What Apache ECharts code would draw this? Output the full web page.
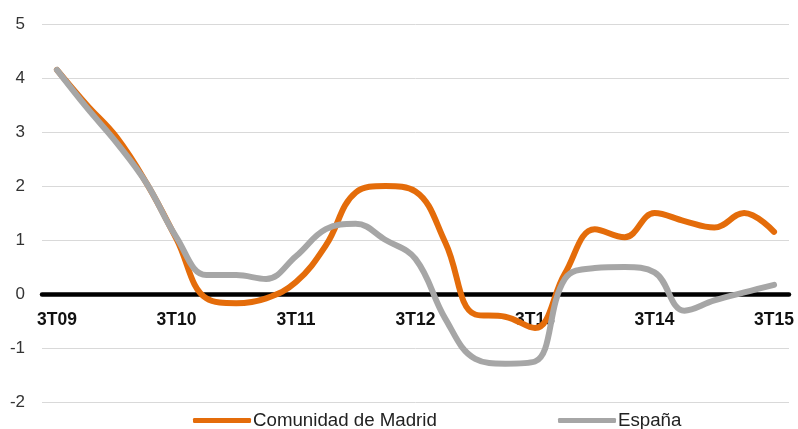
<!DOCTYPE html>
<html>
<head>
<meta charset="utf-8">
<script src="https://cdn.jsdelivr.net/npm/echarts@6/dist/echarts.min.js"></script>
<style>
  html, body { margin: 0; padding: 0; background: #fff; }
  #chart { width: 798px; height: 429px; }
</style>
</head>
<body>
<div id="chart"></div>
<script>
// Quarterly series, 3T09 .. 3T15
const quarters = [
  '3T09', '4T09', '1T10', '2T10', '3T10', '4T10', '1T11', '2T11', '3T11',
  '4T11', '1T12', '2T12', '3T12', '4T12', '1T13', '2T13', '3T13', '4T13',
  '1T14', '2T14', '3T14', '4T14', '1T15', '2T15', '3T15'
];
const madrid = [
  4.15, 3.5, 2.9, 2.05, 1.02, -0.08, -0.17, -0.08, 0.22, 0.9, 1.88, 2.0, 1.9,
  0.95, -0.38, -0.42, -0.63, 0.38, 1.2, 1.05, 1.5, 1.35, 1.23, 1.5, 1.15
];
const espana = [
  4.15, 3.45, 2.8, 2.05, 1.05, 0.35, 0.35, 0.28, 0.7, 1.2, 1.3, 1.0, 0.65,
  -0.46, -1.2, -1.29, -1.25, 0.28, 0.48, 0.5, 0.4, -0.31, -0.12, 0.03, 0.17
];
const yTicks = { min: -2, max: 5, step: 1 };

const ORANGE = '#E46C0A';
const GREY = '#A6A6A6';
const FONT = '"Liberation Sans", Arial, Helvetica, sans-serif';

const chart = echarts.init(document.getElementById('chart'), null, { renderer: 'canvas' });

function legendAt(name, left) {
  return {
    data: [name],
    left: left,
    top: 411,
    itemWidth: 58,
    itemHeight: 5,
    icon: 'roundRect',
    itemGap: 0,
    padding: 0,
    selectedMode: false,
    textStyle: { fontFamily: FONT, fontSize: 18.7, color: '#222', padding: [0, 0, 0, -3] }
  };
}

chart.setOption({
  animation: false,
  backgroundColor: '#fff',
  grid: { left: 42, right: 9, top: 24, bottom: 27, containLabel: false },
  legend: [
    legendAt('Comunidad de Madrid', 193),
    legendAt('España', 558)
  ],
  xAxis: {
    type: 'category',
    data: quarters,
    boundaryGap: true,
    axisLine: { onZero: true, lineStyle: { color: '#000', width: 4.5 } },
    axisTick: { show: false },
    splitLine: { show: false },
    axisLabel: {
      interval: 3,
      // labels sit just under the zero line, not at the grid bottom
      margin: -91,
      fontFamily: FONT,
      fontSize: 17.5,
      fontWeight: 'bold',
      color: '#111'
    }
  },
  yAxis: {
    type: 'value',
    min: yTicks.min,
    max: yTicks.max,
    interval: yTicks.step,
    axisLine: { show: false },
    axisTick: { show: false },
    splitLine: { lineStyle: { color: '#d9d9d9', width: 1 } },
    axisLabel: {
      margin: 17,
      fontFamily: FONT,
      fontSize: 17,
      color: '#333'
    }
  },
  series: [
    {
      name: 'Comunidad de Madrid',
      type: 'line',
      data: madrid,
      smooth: 0.4,
      symbol: 'none',
      lineStyle: { color: ORANGE, width: 6, cap: 'round', join: 'round' },
      itemStyle: { color: ORANGE }
    },
    {
      name: 'España',
      type: 'line',
      data: espana,
      smooth: 0.4,
      symbol: 'none',
      lineStyle: { color: GREY, width: 6, cap: 'round', join: 'round' },
      itemStyle: { color: GREY }
    }
  ]
});
</script>
</body>
</html>
